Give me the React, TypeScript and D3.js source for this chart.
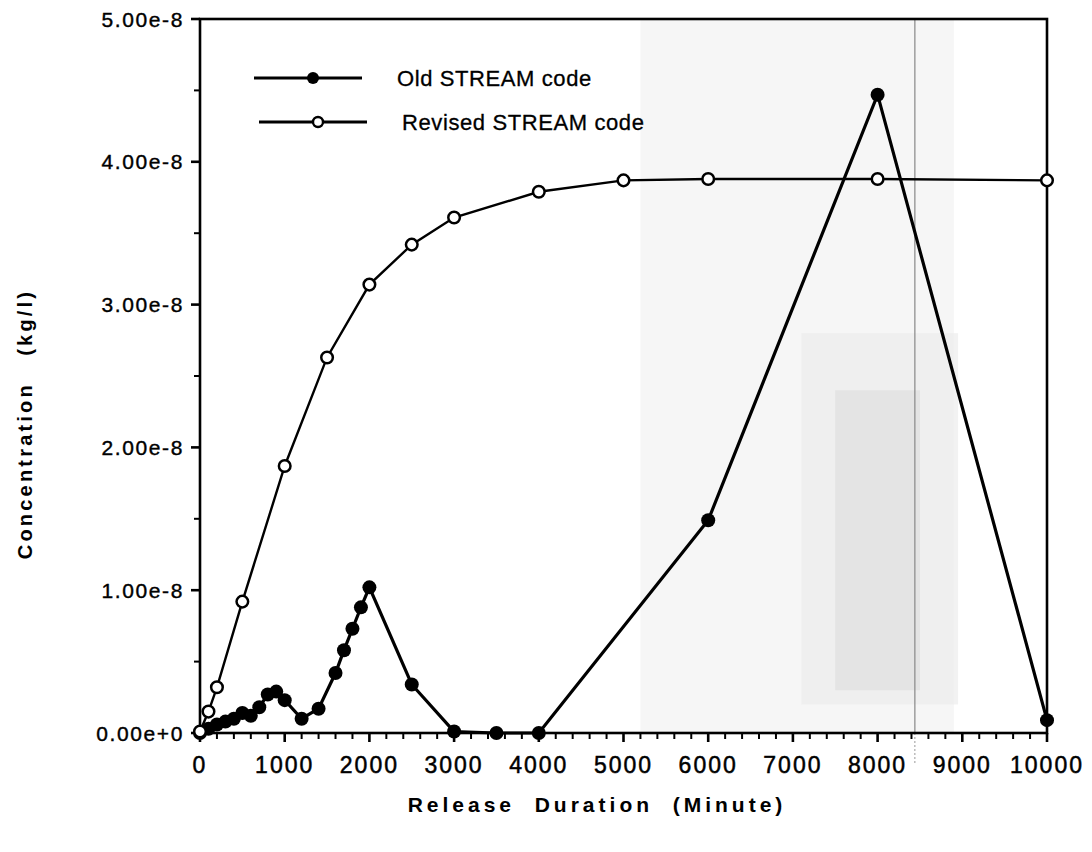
import React from "react";
import * as d3 from "d3";

const oldX = [0, 100, 200, 300, 400, 500, 600, 700, 800, 900, 1000, 1200, 1400, 1600, 1700, 1800, 1900, 2000, 2500, 3000, 3500, 4000, 6000, 8000, 10000];
const oldY = [0.0, 0.03, 0.06, 0.08, 0.1, 0.14, 0.12, 0.18, 0.27, 0.29, 0.23, 0.1, 0.17, 0.42, 0.58, 0.73, 0.88, 1.02, 0.34, 0.01, 0.0, 0.0, 1.49, 4.47, 0.09];

const revX = [0, 100, 200, 500, 1000, 1500, 2000, 2500, 3000, 4000, 5000, 6000, 8000, 10000];
const revY = [0.01, 0.15, 0.32, 0.92, 1.87, 2.63, 3.14, 3.42, 3.61, 3.79, 3.87, 3.88, 3.88, 3.87];

const xTicks = [0, 1000, 2000, 3000, 4000, 5000, 6000, 7000, 8000, 9000, 10000];
const yTicks = [0, 1e-8, 2e-8, 3e-8, 4e-8, 5e-8];
const yTickLabels = ["0.00e+0", "1.00e-8", "2.00e-8", "3.00e-8", "4.00e-8", "5.00e-8"];
const legendLabels = ["Old STREAM code", "Revised STREAM code"];

const SCALE = 1e-8;
const FONT = "'Liberation Sans', Arial, Helvetica, sans-serif";

export default function App() {
  const x = d3.scaleLinear().domain([0, 10000]).range([200, 1047]);
  const y = d3.scaleLinear().domain([0, 5e-8]).range([733, 19]);

  const oldData = oldX.map((v, i) => [v, oldY[i] * SCALE] as [number, number]);
  const revData = revX.map((v, i) => [v, revY[i] * SCALE] as [number, number]);
  const line = d3
    .line<[number, number]>()
    .x((d) => x(d[0]))
    .y((d) => y(d[1]));

  const xMinor = d3.range(0, 10001, 200).filter((v) => v % 1000 !== 0);
  const yMinor = d3.range(0.5e-8, 5e-8, 1e-8);
  const scanX = x(8440);

  return (
    <svg width={1092} height={852} style={{ position: "absolute", left: 0, top: 0, background: "#fff" }}>
      {/* faint scan tone */}
      <rect x={x(5200)} y={y(5e-8)} width={x(8900) - x(5200)} height={y(0) - y(5e-8)} fill="#f6f6f6" />
      <rect x={x(7100)} y={y(2.8e-8)} width={x(8950) - x(7100)} height={y(0.2e-8) - y(2.8e-8)} fill="#ececec" opacity={0.7} />
      <rect x={x(7500)} y={y(2.4e-8)} width={x(8500) - x(7500)} height={y(0.3e-8) - y(2.4e-8)} fill="#dcdcdc" opacity={0.6} />
      <line x1={scanX} x2={scanX} y1={y(5e-8)} y2={y(0)} stroke="#888" strokeWidth={1.2} />
      <line x1={scanX} x2={scanX} y1={y(0)} y2={y(0) + 30} stroke="#999" strokeWidth={1} strokeDasharray="2,2" />

      {/* frame */}
      <rect x={x(0)} y={y(5e-8)} width={x(10000) - x(0)} height={y(0) - y(5e-8)} fill="none" stroke="#000" strokeWidth={2.6} />

      {/* x ticks */}
      {xTicks.map((t) => (
        <g key={"xt" + t}>
          <line x1={x(t)} x2={x(t)} y1={y(0)} y2={y(0) + 9} stroke="#000" strokeWidth={2.6} />
          <text x={x(t)} y={773} textAnchor="middle" fontFamily={FONT} fontSize={23} letterSpacing={2} fill="#000" stroke="#000" strokeWidth={0.5}>
            {t}
          </text>
        </g>
      ))}
      {xMinor.map((t) => (
        <line key={"xm" + t} x1={x(t)} x2={x(t)} y1={y(0)} y2={y(0) + 6} stroke="#000" strokeWidth={2} />
      ))}

      {/* y ticks */}
      {yTicks.map((t, i) => (
        <g key={"yt" + i}>
          <line x1={x(0) - 9} x2={x(0)} y1={y(t)} y2={y(t)} stroke="#000" strokeWidth={2.6} />
          <text x={184} y={y(t)} dy="0.36em" textAnchor="end" fontFamily={FONT} fontSize={21} letterSpacing={1.6} fill="#000" stroke="#000" strokeWidth={0.4}>
            {yTickLabels[i]}
          </text>
        </g>
      ))}
      {yMinor.map((t, i) => (
        <line key={"ym" + i} x1={x(0) - 6} x2={x(0)} y1={y(t)} y2={y(t)} stroke="#000" strokeWidth={2} />
      ))}

      {/* revised series */}
      <path d={line(revData) || ""} fill="none" stroke="#000" strokeWidth={2.4} />
      {/* old series */}
      <path d={line(oldData) || ""} fill="none" stroke="#000" strokeWidth={3.2} />
      {oldData.map((d, i) => (
        <circle key={"o" + i} cx={x(d[0])} cy={y(d[1])} r={7} fill="#000" />
      ))}
      {revData.map((d, i) => (
        <circle key={"r" + i} cx={x(d[0])} cy={y(d[1])} r={5.8} fill="#fff" stroke="#000" strokeWidth={2.5} />
      ))}

      {/* legend */}
      <line x1={254} x2={362} y1={78} y2={78} stroke="#000" strokeWidth={2.8} />
      <circle cx={313} cy={78} r={6} fill="#000" />
      <text x={397} y={78} dy="0.36em" fontFamily={FONT} fontSize={22} letterSpacing={0.6} fill="#000" stroke="#000" strokeWidth={0.3}>{legendLabels[0]}</text>
      <line x1={259} x2={367} y1={122} y2={122} stroke="#000" strokeWidth={2.8} />
      <circle cx={318} cy={122} r={5} fill="#fff" stroke="#000" strokeWidth={2.4} />
      <text x={402} y={122} dy="0.36em" fontFamily={FONT} fontSize={22} letterSpacing={0.6} fill="#000" stroke="#000" strokeWidth={0.3}>{legendLabels[1]}</text>

      {/* axis titles */}
      <text x={597} y={812} textAnchor="middle" fontFamily={FONT} fontSize={21} fontWeight="bold" letterSpacing={4} fill="#000" style={{ whiteSpace: "pre" }}>
        {"Release  Duration  (Minute)"}
      </text>
      <text transform={`translate(32,${(y(0) + y(5e-8)) / 2 + 48}) rotate(-90)`} textAnchor="middle" fontFamily={FONT} fontSize={20} fontWeight="bold" letterSpacing={3.2} fill="#000" style={{ whiteSpace: "pre" }}>
        {"Concentration   (kg/l)"}
      </text>
    </svg>
  );
}
